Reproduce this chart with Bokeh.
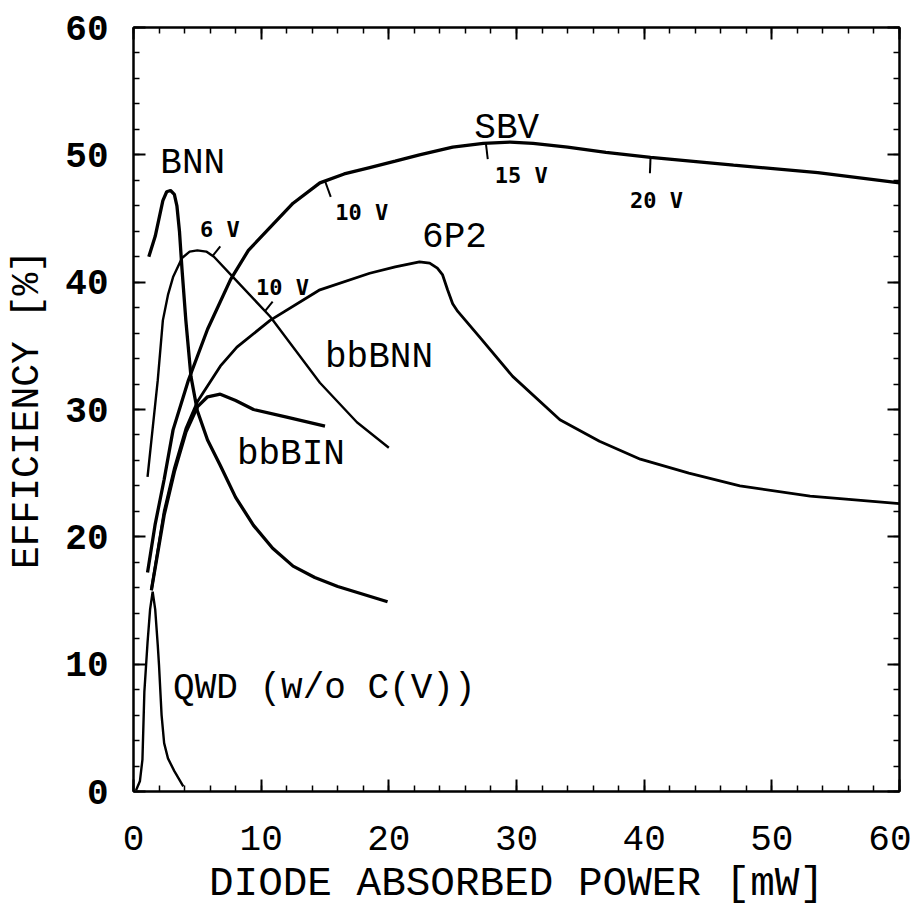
from bokeh.plotting import figure
from bokeh.models import LinearAxis, SingleIntervalTicker, Range1d
from bokeh.embed import file_html
from bokeh.resources import INLINE
from bokeh.core.properties import value
import numpy as np

# ---------------- data ----------------
qwd_x = [0.2, 0.5, 0.7, 0.85, 1.1, 1.3, 1.5, 1.7, 1.9, 2.0, 2.2, 2.4, 2.7, 3.2, 3.9]
qwd_y = [0.1, 0.8, 2.5, 7.8, 11.7, 14.3, 15.7, 14.3, 11.5, 9.9, 6.0, 3.8, 2.6, 1.6, 0.4]

bnn_x = [1.2, 1.7, 2.3, 2.6, 2.9, 3.2, 3.4, 3.6, 3.8, 4.1, 4.5, 5.0, 5.8, 6.8, 8.0, 9.4, 10.9,
         12.5, 14.2, 16.0, 19.9]
bnn_y = [42.0, 43.6, 46.4, 47.1, 47.2, 46.9, 46.0, 44.0, 41.0, 37.0, 32.6, 29.9, 27.6, 25.6,
         23.1, 20.9, 19.1, 17.7, 16.8, 16.1, 14.9]

bbbnn_x = [1.1, 1.9, 2.3, 2.7, 3.1, 3.8, 4.4, 5.0, 5.7, 6.3, 7.8, 10.7, 14.6, 17.5, 20.0]
bbbnn_y = [24.7, 32.3, 37.0, 39.0, 40.4, 41.9, 42.4, 42.5, 42.4, 42.0, 40.4, 37.3, 32.1, 29.0, 27.0]

sbv_x = [1.1, 1.7, 2.4, 3.1, 4.3, 5.8, 7.6, 9.0, 10.7, 12.5, 14.6, 16.5, 18.5, 20.5, 22.4, 25.0,
         27.4, 29.5, 31.3, 34.0, 37.0, 40.5, 47.0, 53.6, 60.0]
sbv_y = [17.2, 21.0, 24.5, 28.4, 32.3, 36.3, 40.2, 42.5, 44.3, 46.2, 47.8, 48.5, 49.0, 49.5, 50.0,
         50.6, 50.9, 51.0, 50.9, 50.6, 50.2, 49.8, 49.2, 48.6, 47.8]

p6p2_x = [1.4, 2.4, 3.2, 4.1, 5.0, 6.8, 8.1, 10.7, 14.6, 18.5, 20.5, 22.4, 23.2, 23.8, 24.2, 24.6,
          25.0, 25.4, 26.0, 27.1, 29.7, 33.4, 36.5, 39.7, 43.5, 47.5, 53.0, 60.0]
p6p2_y = [15.8, 22.0, 25.4, 28.5, 30.6, 33.4, 34.9, 37.0, 39.4, 40.7, 41.2, 41.6, 41.5, 41.1,
          40.6, 39.4, 38.3, 37.7, 37.0, 35.7, 32.6, 29.2, 27.5, 26.1, 25.0, 24.0, 23.2, 22.6]

bbbin_x = [1.4, 2.4, 3.2, 4.1, 5.0, 5.8, 6.8, 8.0, 9.4, 12.0, 15.0]
bbbin_y = [15.8, 21.7, 25.1, 28.2, 30.2, 31.0, 31.2, 30.7, 30.0, 29.4, 28.7]

# curve name labels
curve_labels = ["BNN", "SBV", "6P2", "bbBNN", "bbBIN", "QWD (w/o C(V))"]
curve_label_x = [2.1, 26.7, 22.6, 15.0, 8.1, 3.1]
curve_label_y = [49.3, 52.1, 43.5, 34.1, 26.5, 8.1]

# bias-voltage marks on curves
sbv_volt_x = [15.0, 27.6, 40.5]
sbv_volt_text = ["10 V", "15 V", "20 V"]
sbv_volt_lx = [15.8, 28.3, 38.9]
sbv_volt_ly = [45.5, 48.4, 46.4]
bbbnn_volt_x = [6.2, 10.3]
bbbnn_volt_text = ["6 V", "10 V"]
bbbnn_volt_lx = [5.2, 9.6]
bbbnn_volt_ly = [44.1, 39.6]

# ---------------- figure ----------------
MONO = "Liberation Mono"
p = figure(width=911, height=909, output_backend="svg", toolbar_location=None,
           x_range=Range1d(0, 60), y_range=Range1d(0, 60),
           min_border_left=133, min_border_right=12, min_border_top=27, min_border_bottom=117,
           x_axis_label="DIODE ABSORBED POWER [mW]", y_axis_label="EFFICIENCY [%]")
p.grid.visible = False
p.outline_line_color = "black"
p.outline_line_width = 2
p.background_fill_color = "white"
p.border_fill_color = "white"

def style_axis(ax, labels=True):
    ax.ticker = SingleIntervalTicker(interval=10, num_minor_ticks=5)
    ax.axis_line_color = "black"
    ax.axis_line_width = 2
    ax.major_tick_in = 12
    ax.major_tick_out = 0
    ax.minor_tick_in = 6
    ax.minor_tick_out = 0
    ax.major_tick_line_width = 2
    ax.minor_tick_line_width = 1.5
    ax.major_tick_line_color = "black"
    ax.minor_tick_line_color = "black"
    ax.major_label_text_color = "black" if labels else None
    ax.axis_label_text_color = "black"

for ax in p.xaxis:
    style_axis(ax)
    ax.major_label_text_font = MONO
    ax.major_label_text_font_size = "36px"
    ax.major_label_standoff = 34
    ax.axis_label_text_font = MONO
    ax.axis_label_text_font_size = "41px"
    ax.axis_label_text_font_style = "normal"
    ax.axis_label_standoff = 8
for ax in p.yaxis:
    style_axis(ax)
    ax.major_label_text_font = MONO
    ax.major_label_text_font_style = "bold"
    ax.major_label_text_font_size = "36px"
    ax.major_label_standoff = 25
    ax.axis_label_text_font = MONO
    ax.axis_label_text_font_size = "38px"
    ax.axis_label_text_font_style = "normal"
    ax.axis_label_standoff = 13

top = LinearAxis()
style_axis(top, labels=False)
top.major_label_text_font_size = "0px"
top.major_label_standoff = 0
p.add_layout(top, "above")
right = LinearAxis()
style_axis(right, labels=False)
right.major_label_text_font_size = "0px"
right.major_label_standoff = 0
p.add_layout(right, "right")

THICK = 3.3
THIN = 2.4
p.line(qwd_x, qwd_y, line_color="black", line_width=THIN)
p.line(bnn_x, bnn_y, line_color="black", line_width=THICK)
p.line(bbbnn_x, bbbnn_y, line_color="black", line_width=THIN)
p.line(sbv_x, sbv_y, line_color="black", line_width=THICK)
p.line(p6p2_x, p6p2_y, line_color="black", line_width=2.8)
p.line(bbbin_x, bbbin_y, line_color="black", line_width=THICK)

# voltage marks
sx = np.array(sbv_volt_x)
sy = np.interp(sx, sbv_x, sbv_y)
p.segment(x0=sx, y0=sy, x1=sx + np.array([0.45, 0.15, -0.05]), y1=sy - 1.25,
          line_color="black", line_width=2)
bx = np.array(bbbnn_volt_x)
by = np.interp(bx, bbbnn_x, bbbnn_y)
p.segment(x0=bx, y0=by, x1=bx + 0.6, y1=by + 0.75, line_color="black", line_width=2)

p.text(x=curve_label_x, y=curve_label_y, text=curve_labels,
       text_font=value(MONO), text_font_size="36px", text_color="black",
       text_align="left", text_baseline="middle")
p.text(x=sbv_volt_lx, y=sbv_volt_ly, text=sbv_volt_text,
       text_font=value("DejaVu Sans Mono"), text_font_style="bold", text_font_size="22px",
       text_color="black", text_align="left", text_baseline="middle")
p.text(x=bbbnn_volt_lx, y=bbbnn_volt_ly, text=bbbnn_volt_text,
       text_font=value("DejaVu Sans Mono"), text_font_style="bold", text_font_size="22px",
       text_color="black", text_align="left", text_baseline="middle")

open("out.html", "w").write(file_html(p, INLINE))
